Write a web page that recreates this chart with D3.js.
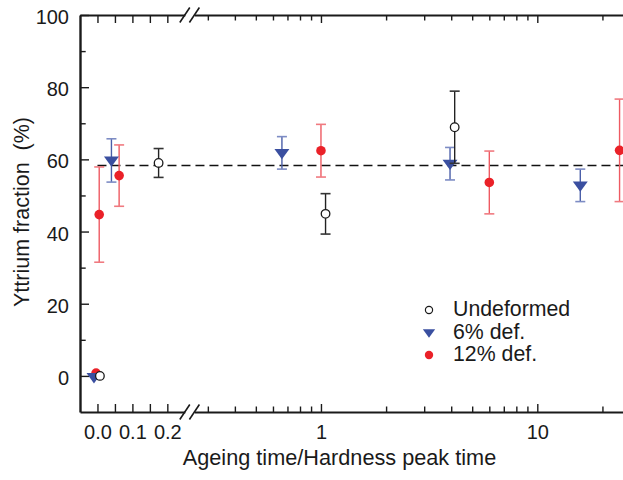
<!DOCTYPE html>
<html>
<head>
<meta charset="utf-8">
<script src="https://cdn.jsdelivr.net/npm/d3@7"></script>
<style>
  html, body { margin: 0; padding: 0; background: #fff; }
  svg { display: block; }
  text { font-family: "Liberation Sans", Arial, Helvetica, sans-serif; fill: #1a1a1a; }
</style>
</head>
<body>
<svg id="chart" width="623" height="480"></svg>
<script>
// ---------------- data ----------------
const undefT   = [0.007, 0.175, 1.05, 4.15];
const undefY   = [0, 59, 44.9, 68.9];
const undefErr = [0, 4, 5.6, 10];

const def6T   = [-0.01, 0.04, 0.66, 3.95, 15.8];
const def6Y   = [-0.3, 59.7, 61.8, 58.8, 52.8];
const def6Err = [0, 6, 4.5, 4.5, 4.5];

const def12T   = [-0.004, 0.005, 0.062, 1.0, 6.0, 24];
const def12Y   = [0.8, 44.7, 55.5, 62.4, 53.6, 62.5];
const def12Err = [0, 13.2, 8.5, 7.3, 8.7, 14.2];

const refLine = [58.3];

const yMajor = [0, 20, 40, 60, 80, 100];
const yMinor = [10, 30, 50, 70, 90];
const linTicks = [0, 0.05, 0.1, 0.15, 0.2];
const linLabels = {0: "0.0", 0.1: "0.1", 0.2: "0.2"};
const logMajor = [1, 10];
const logMinor = [0.3, 0.4, 0.5, 0.6, 0.7, 0.8, 0.9, 2, 3, 4, 5, 6, 7, 8, 9, 20];

const seriesNames = ["Undeformed", "6% def.", "12% def."];

// ---------------- layout ----------------
const svg = d3.select("#chart");
const yTop = 15, yBot = 412, xLeft = 80;
const axisColor = "#1a1a1a";

const y = d3.scaleLinear().domain([-10, 100]).range([yBot, yTop]);
const xLin = d3.scaleLinear().domain([-0.05, 0.25]).range([xLeft, 184.8]);
const xLog = d3.scaleLog().domain([0.26, 25]).range([194.4, 623.4]);
const xPos = t => (t <= 0.25 ? xLin(t) : xLog(t));

// ---------------- axes ----------------
function styleAxis(g, width) {
  g.select(".domain").attr("stroke", axisColor).attr("stroke-width", width);
  g.selectAll(".tick line").attr("stroke", axisColor).attr("stroke-width", 1.4);
  g.selectAll(".tick text").attr("fill", axisColor).style("font-size", "20px")
    .style("font-family", '"Liberation Sans", Arial, sans-serif');
}

// y axis
const gy = svg.append("g").attr("transform", `translate(${xLeft},0)`)
  .call(d3.axisLeft(y).tickValues(yMajor).tickSize(-9).tickSizeOuter(0).tickPadding(11).tickFormat(d3.format("d")));
styleAxis(gy, 2.4);
gy.selectAll(".tick text").attr("dy", "0.43em");
const gyMinor = svg.append("g").attr("transform", `translate(${xLeft},0)`)
  .call(d3.axisLeft(y).tickValues(yMinor).tickSize(-5.7).tickSizeOuter(0).tickFormat(""));
gyMinor.select(".domain").remove();
styleAxis(gyMinor, 0);

// x axes (bottom with labels, top mirrored)
function xAxes(yPos, maker, withLabels) {
  const gl = svg.append("g").attr("transform", `translate(0,${yPos})`)
    .call(maker(xLin).tickValues(linTicks).tickSize(-8).tickSizeOuter(0).tickPadding(6)
      .tickFormat(d => withLabels ? (linLabels[d] || "") : ""));
  styleAxis(gl, 2.2);
  const gm = svg.append("g").attr("transform", `translate(0,${yPos})`)
    .call(maker(xLog).tickValues(logMajor).tickSize(-8).tickSizeOuter(0).tickPadding(6)
      .tickFormat(d => withLabels ? d3.format("d")(d) : ""));
  styleAxis(gm, 2.2);
  const gn = svg.append("g").attr("transform", `translate(0,${yPos})`)
    .call(maker(xLog).tickValues(logMinor).tickSize(-5.5).tickSizeOuter(0).tickFormat(""));
  gn.select(".domain").remove();
  styleAxis(gn, 0);
  return [gl, gm];
}
const [gbl, gbm] = xAxes(yBot, d3.axisBottom, true);
gbl.selectAll(".tick text").attr("dy", "1.05em");
gbm.selectAll(".tick text").attr("dy", "1.05em");
xAxes(yTop, d3.axisTop, false);

// break marks
const breaks = [xLin.range()[1], xLog.range()[0]];
[yBot, yTop].forEach(yy => {
  breaks.forEach(bx => {
    svg.append("line")
      .attr("x1", bx - 5).attr("y1", yy + 7.5)
      .attr("x2", bx + 5).attr("y2", yy - 7.5)
      .attr("stroke", axisColor).attr("stroke-width", 1.6);
  });
});

// axis titles
svg.append("text")
  .attr("x", 339.5).attr("y", 465)
  .attr("text-anchor", "middle")
  .style("font-size", "21.7px")
  .text("Ageing time/Hardness peak time");

svg.append("text")
  .attr("transform", "translate(28.5,212) rotate(-90)")
  .attr("text-anchor", "middle")
  .style("font-size", "21.5px")
  .style("white-space", "pre")
  .text("Yttrium fraction  (%)");

// reference dashed line
svg.append("line")
  .attr("x1", xPos(0)).attr("x2", xLog(25))
  .attr("y1", y(refLine[0])).attr("y2", y(refLine[0]))
  .attr("stroke", "#111").attr("stroke-width", 1.4)
  .attr("stroke-dasharray", "9,5");

// ---------------- marks ----------------
function build(T, Y, E) { return T.map((t, i) => ({t, y: Y[i], e: E[i]})); }
const sUndef = build(undefT, undefY, undefErr);
const s6 = build(def6T, def6Y, def6Err);
const s12 = build(def12T, def12Y, def12Err);

function errorBars(data, lineColor, capColor) {
  const g = svg.append("g");
  const d = data.filter(p => p.e > 0);
  g.selectAll("line.v").data(d).join("line").attr("class", "v")
    .attr("x1", p => xPos(p.t)).attr("x2", p => xPos(p.t))
    .attr("y1", p => y(p.y - p.e)).attr("y2", p => y(p.y + p.e))
    .attr("stroke", lineColor).attr("stroke-width", 1.4);
  [1, -1].forEach((s, k) => {
    g.selectAll("line.c" + k).data(d).join("line").attr("class", "c" + k)
      .attr("x1", p => xPos(p.t) - 5).attr("x2", p => xPos(p.t) + 5)
      .attr("y1", p => y(p.y + s * p.e)).attr("y2", p => y(p.y + s * p.e))
      .attr("stroke", capColor).attr("stroke-width", 1.6);
  });
}

const red = "#ea2128", redErr = "#ee5a62", redCap = "#f07a80";
const blue = "#3a4fa0", blueErr = "#4a5ea8", blueCap = "#7d8cc4";
const black = "#1a1a1a";

const tri = d3.symbol().type(d3.symbolTriangle).size(62);

// 12% def
errorBars(s12, redErr, redCap);
svg.append("g").selectAll("circle").data(s12).join("circle")
  .attr("cx", p => xPos(p.t)).attr("cy", p => y(p.y)).attr("r", 4.8)
  .attr("fill", red);

// 6% def
errorBars(s6, blueErr, blueCap);
svg.append("g").selectAll("path").data(s6).join("path")
  .attr("d", tri)
  .attr("transform", p => `translate(${xPos(p.t)},${y(p.y) - 0.5}) rotate(180) scale(1.25,1)`)
  .attr("fill", blue);

// undeformed
errorBars(sUndef, "#222", "#333");
svg.append("g").selectAll("circle").data(sUndef).join("circle")
  .attr("cx", p => xPos(p.t)).attr("cy", p => y(p.y)).attr("r", 4.3)
  .attr("fill", "#fff").attr("stroke", black).attr("stroke-width", 1.3);

// ---------------- legend ----------------
const lg = svg.append("g");
const lx = 429, ly0 = 310, lstep = 22.5;
lg.append("circle").attr("cx", lx).attr("cy", ly0).attr("r", 3.6)
  .attr("fill", "#fff").attr("stroke", black).attr("stroke-width", 1.2);
lg.append("path").attr("d", d3.symbol().type(d3.symbolTriangle).size(42))
  .attr("transform", `translate(${lx},${ly0 + lstep - 0.5}) rotate(180) scale(1.25,1)`)
  .attr("fill", blue);
lg.append("circle").attr("cx", lx).attr("cy", ly0 + 2 * lstep).attr("r", 4.2)
  .attr("fill", red);
lg.selectAll("text").data(seriesNames).join("text")
  .attr("x", 453).attr("y", (d, i) => ly0 + i * lstep + 6.3)
  .style("font-size", "21.3px")
  .text(d => d);
</script>
</body>
</html>
